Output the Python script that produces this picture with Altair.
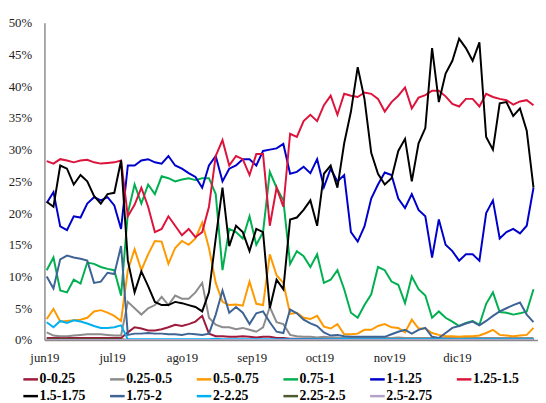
import altair as alt
import pandas as pd

# ---- data (percent), one value every 3 days starting 2019-06-02 ----
start_date = "2019-06-02"
n_points = 73

series_names = ["0-0.25", "0.25-0.5", "0.5-0.75", "0.75-1", "1-1.25", "1.25-1.5",
                "1.5-1.75", "1.75-2", "2-2.25", "2.25-2.5", "2.5-2.75"]
series_colors = ["#9E1A3A", "#8C8C8C", "#FF9900", "#00B050", "#0000CC", "#DC143C",
                 "#000000", "#3E6496", "#00B0F0", "#4E5B31", "#B3A2C7"]

s_0_025 = [0.3, 0.3, 0.3, 0.3, 0.3, 0.3, 0.3, 0.3, 0.3, 0.3, 0.3, 0.3,
           1.2, 2.0, 1.8, 1.5, 1.5, 1.7, 2.0, 2.4, 2.2, 2.5, 2.9, 3.8, 1.0,
           0.6, 0.6, 0.5, 0.5, 0.6, 0.5, 0.4, 0.5, 0.5, 0.3, 0.3,
           0.2, 0.2, 0.2, 0.2, 0.2, 0.1, 0.1, 0.1, 0.1, 0.1, 0.1, 0.1, 0.1, 0.1, 0.1, 0.1,
           0.1, 0.1, 0.1, 0.1, 0.1, 0.1, 0.1, 0.1, 0.1, 0.1, 0.1, 0.1, 0.1, 0.1, 0.1, 0.1,
           0.1, 0.1, 0.1, 0.1, 0.1]
s_025_05 = [1.2, 0.7, 0.6, 0.6, 0.7, 0.8, 0.9, 0.9, 0.9, 0.8, 0.7, 0.7,
            6.0, 5.0, 4.0, 5.0, 5.5, 6.8, 5.5, 7.0, 6.5, 6.5, 7.5, 9.0, 3.5,
            2.4, 2.0, 2.0, 1.7, 1.9, 1.6, 1.3, 2.0, 5.2, 2.8, 2.5,
            0.8, 0.6, 0.5, 0.5, 0.4, 0.5, 0.4, 0.4, 0.3, 0.3, 0.3, 0.3, 0.3, 0.3, 0.3, 0.3,
            0.4, 0.3, 0.3, 0.3, 0.3, 0.3, 0.3, 0.3, 0.3, 0.3, 0.3, 0.3, 0.3, 0.3, 0.3, 0.3,
            0.3, 0.3, 0.3, 0.3, 0.3]
s_05_075 = [3.3, 4.9, 2.9, 3.0, 3.1, 3.2, 3.5, 4.5, 4.7, 4.3, 3.8, 3.0,
            11.0, 14.3, 11.0, 13.5, 15.6, 15.5, 12.0, 14.5, 15.6, 15.0, 16.0, 18.5, 14.5,
            9.0, 6.0, 5.5, 5.6, 5.4, 9.2, 5.7, 5.5, 13.5, 10.2, 9.0,
            4.1, 4.3, 3.5, 3.3, 3.8, 2.1, 1.8, 2.5, 0.9, 0.9, 1.0, 1.6, 1.6, 2.2, 2.5, 2.0,
            1.9, 1.2, 3.2, 1.8, 1.8, 1.1, 0.8, 0.6, 0.6, 0.5, 0.6, 0.6, 0.7, 1.1, 1.6, 0.8,
            0.7, 0.6, 0.7, 0.8, 1.9]
s_075_1 = [11.0, 13.0, 7.8, 7.5, 9.5, 8.9, 12.2, 12.0, 11.5, 11.2, 11.0, 7.0,
           20.0, 24.5, 21.5, 24.5, 23.0, 25.8, 25.5, 25.0, 25.3, 25.5, 25.2, 25.5, 25.5,
           23.0, 11.0, 17.5, 17.0, 16.0, 19.5, 15.0, 17.0, 26.5, 24.0, 22.0,
           12.0, 14.0, 13.2, 11.5, 13.5, 9.0, 9.5, 11.0, 8.0, 4.3, 3.5, 5.5, 7.2, 11.5, 11.0, 9.2,
           8.7, 5.8, 10.0, 8.0, 7.0, 3.5, 4.5, 3.5, 2.9, 2.2, 2.7, 3.0, 2.4, 5.7, 7.5, 4.4,
           4.3, 4.0, 4.2, 4.5, 8.0]
s_1_125 = [21.6, 23.3, 17.9, 17.3, 19.5, 19.3, 21.5, 22.5, 22.0, 22.5, 21.2, 17.5,
           27.5, 27.5, 28.3, 28.5, 28.0, 27.8, 29.0, 27.5, 27.0, 26.3, 25.7, 24.0, 27.5,
           29.0, 25.0, 27.0, 27.5, 28.5, 28.5, 27.5, 29.8, 30.0, 30.2, 30.9,
           26.2, 26.5, 27.3, 26.3, 28.5, 24.1, 27.0, 25.0, 26.0, 17.0, 15.5, 17.9, 22.3, 24.5, 26.4, 26.0,
           22.3, 20.8, 23.0, 20.5, 19.5, 13.0, 19.0, 15.0, 14.0, 12.5, 13.5, 13.5, 12.5, 20.0, 22.0, 16.0,
           17.0, 17.5, 16.8, 18.0, 24.0]
s_125_15 = [28.2, 27.8, 28.5, 28.3, 28.0, 28.3, 28.4, 28.0, 27.8, 27.9, 28.0, 28.3,
            19.5, 21.3, 24.0, 21.0, 17.0, 17.5, 19.5, 18.0, 16.5, 17.5, 16.2, 17.0, 21.0,
            29.0, 31.5, 27.5, 29.0, 28.5, 26.0, 29.3, 29.3, 18.0, 24.0, 21.0,
            32.5, 32.0, 34.5, 35.5, 34.5, 37.0, 38.5, 35.5, 38.8, 38.5, 38.3, 39.0, 38.8, 38.0, 36.0, 37.5,
            38.5, 39.8, 36.5, 38.2, 38.6, 39.3, 39.3, 38.4, 37.2, 36.8, 38.0, 38.0, 36.8, 38.8, 38.3, 38.0,
            37.8, 37.1, 37.6, 37.8, 37.0]
s_15_175 = [21.8, 21.0, 27.5, 27.0, 24.5, 26.0, 25.0, 22.7, 21.5, 23.0, 23.2, 28.3,
            12.5, 7.5, 10.8, 8.5, 6.0, 5.5, 5.5, 6.0, 5.8, 5.5, 5.2, 4.5, 7.5,
            16.0, 24.0, 14.8, 18.0, 17.0, 14.0, 17.5, 17.0, 5.0, 9.5, 8.0,
            19.0, 19.3, 20.5, 22.0, 18.0, 26.2, 27.5, 24.0, 31.0, 36.0, 43.0, 38.0, 29.5, 26.2, 24.5, 25.5,
            29.8, 31.7, 25.0, 31.0, 33.4, 46.0, 37.5, 42.0, 44.0, 47.5, 46.0, 44.0, 46.9, 32.0, 30.0, 37.3,
            37.5, 35.3, 36.5, 33.0, 24.0]
s_175_2 = [10.0, 8.1, 12.7, 13.3, 13.0, 12.8, 12.5, 9.0, 9.2, 10.6, 10.4, 14.8,
           0.8, 1.0, 1.0, 1.1, 1.0, 1.0, 0.9, 0.9, 0.8, 1.0, 0.9, 0.8, 1.0,
           4.0, 7.8, 4.3, 5.2, 4.3, 2.5, 4.2, 4.5, 2.8, 1.3, 1.1,
           4.8, 4.2, 3.2, 2.6, 2.2, 1.2, 0.7, 0.8, 0.6, 0.5, 0.5, 0.5, 0.5, 0.5, 0.5, 0.9,
           1.3, 1.6, 1.0, 1.6, 1.9, 0.5, 0.3, 1.1, 1.9, 2.2, 2.6, 2.9, 2.3, 3.0, 3.8, 4.5,
           5.0, 5.5, 5.9, 4.0, 2.8]
s_2_225 = [2.8, 2.0, 3.0, 2.7, 3.1, 2.9, 2.6, 2.2, 1.9, 1.9, 2.0, 2.3,
           0.1, 0.1, 0.1, 0.1, 0.1, 0.1, 0.1, 0.1, 0.1, 0.1, 0.1, 0.1, 0.1,
           0.2, 0.1, 0.1, 0.1, 0.1, 0.1, 0.1, 0.1, 0.1, 0.1, 0.1,
           0.1, 0.1, 0.1, 0.1, 0.1, 0.1, 0.1, 0.1, 0.2, 0.1, 0.1, 0.1, 0.1, 0.1, 0.1, 0.1,
           0.1, 0.1, 0.1, 0.1, 0.1, 0.1, 0.1, 0.1, 0.1, 0.1, 0.1, 0.1, 0.1, 0.1, 0.1, 0.1,
           0.1, 0.1, 0.1, 0.1, 0.1]
s_225_25 = [0.1, 0.1, 0.1, 0.1, 0.1, 0.1, 0.1, 0.1, 0.1, 0.1, 0.1, 0.1,
            0.0, 0.0, 0.0, 0.0, 0.0, 0.0, 0.0, 0.0, 0.0, 0.0, 0.0, 0.0, 0.0,
            0.0, 0.0, 0.0, 0.0, 0.0, 0.0, 0.0, 0.0, 0.0, 0.0, 0.0,
            0.0, 0.0, 0.0, 0.0, 0.0, 0.0, 0.0, 0.0, 0.0, 0.0, 0.0, 0.0, 0.0, 0.0, 0.0, 0.0,
            0.0, 0.0, 0.0, 0.0, 0.0, 0.0, 0.0, 0.0, 0.0, 0.0, 0.0, 0.0, 0.0, 0.0, 0.0, 0.0,
            0.0, 0.0, 0.0, 0.0, 0.0]
s_25_275 = [0.0, 0.0, 0.0, 0.0, 0.0, 0.0, 0.0, 0.0, 0.0, 0.0, 0.0, 0.0,
            0.0, 0.0, 0.0, 0.0, 0.0, 0.0, 0.0, 0.0, 0.0, 0.0, 0.0, 0.0, 0.0,
            0.0, 0.0, 0.0, 0.0, 0.0, 0.0, 0.0, 0.0, 0.0, 0.0, 0.0,
            0.0, 0.0, 0.0, 0.0, 0.0, 0.0, 0.0, 0.0, 0.0, 0.0, 0.0, 0.0, 0.0, 0.0, 0.0, 0.0,
            0.0, 0.0, 0.0, 0.0, 0.0, 0.0, 0.0, 0.0, 0.0, 0.0, 0.0, 0.0, 0.0, 0.0, 0.0, 0.0,
            0.0, 0.0, 0.0, 0.0, 0.0]

series_values = [s_0_025, s_025_05, s_05_075, s_075_1, s_1_125, s_125_15,
                 s_15_175, s_175_2, s_2_225, s_225_25, s_25_275]

month_labels = ["jun19", "jul19", "ago19", "sep19", "oct19", "nov19", "dic19"]
month_numbers = [6, 7, 8, 9, 10, 11, 12]
y_ticks = [0, 5, 10, 15, 20, 25, 30, 35, 40, 45, 50]

# ---- long table ----
dates = pd.date_range(start_date, periods=n_points, freq="3D")
rows = []
for order, (name, vals) in enumerate(zip(series_names, series_values)):
    for d, v in zip(dates, vals):
        rows.append({"fecha": d, "serie": name, "prob": v, "orden": order})
df = pd.DataFrame(rows)

label_js = "[" + ",".join("'" + s + "'" for s in month_labels) + "]"
tick_values = [alt.DateTime(year=2019, month=m, date=1) for m in month_numbers]

serif = "Liberation Serif"

chart = (
    alt.Chart(df)
    .mark_line(strokeWidth=2, clip=True)
    .encode(
        x=alt.X(
            "fecha:T",
            scale=alt.Scale(domain=[alt.DateTime(year=2019, month=6, date=1),
                                    alt.DateTime(year=2020, month=1, date=6)]),
            axis=alt.Axis(
                values=tick_values,
                labelExpr=label_js + "[month(datum.value) - 5]",
                title=None,
                ticks=False,
                grid=False,
                domainColor="#8C8C8C",
                domainWidth=1.5,
                labelFont=serif,
                labelFontSize=13,
                labelColor="#222222",
                labelPadding=12,
                labelFlush=False,
                labelOverlap=False,
            ),
        ),
        y=alt.Y(
            "prob:Q",
            scale=alt.Scale(domain=[0, 50], nice=False),
            axis=alt.Axis(
                values=y_ticks,
                labelExpr="datum.value + '%'",
                title=None,
                ticks=False,
                grid=False,
                domainColor="#8C8C8C",
                domainWidth=1.5,
                labelFont=serif,
                labelFontSize=13,
                labelColor="#222222",
                labelPadding=13,
            ),
        ),
        color=alt.Color(
            "serie:N",
            scale=alt.Scale(domain=series_names, range=series_colors),
            legend=alt.Legend(
                title=None,
                orient="none",
                legendX=-23,
                legendY=353,
                direction="horizontal",
                columns=6,
                columnPadding=19,
                rowPadding=1,
                gridAlign="all",
                symbolType="stroke",
                symbolSize=220,
                symbolStrokeWidth=2.5,
                labelFont=serif,
                labelFontSize=14,
                labelFontWeight="bold",
                labelColor="#000000",
                labelOffset=0,
                padding=0,
            ),
        ),
        order=alt.Order("fecha:T"),
    )
    .properties(
        width=501,
        height=322,
        autosize=alt.AutoSizeParams(type="none"),
        padding={"left": 37, "top": 12, "right": 0, "bottom": 61},
    )
    .configure_view(stroke=None)
)

chart.save("out.html", embed_options={"renderer": "svg", "actions": False})
